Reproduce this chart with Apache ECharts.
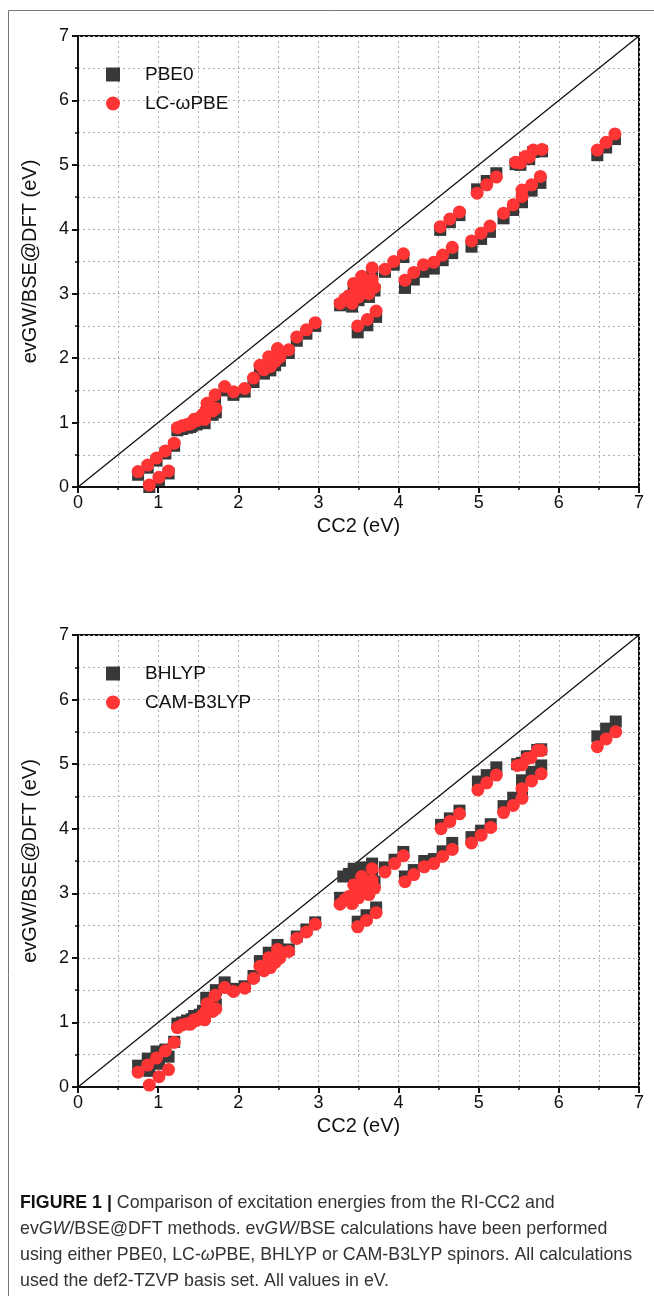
<!DOCTYPE html>
<html>
<head>
<meta charset="utf-8">
<script src="https://cdn.jsdelivr.net/npm/echarts@6/dist/echarts.min.js"></script>
<style>
html,body{margin:0;padding:0;background:#fff;}
#c{width:654px;height:1296px;}
</style>
</head>
<body>
<div id="c"></div>
<script>
// ---- data (CC2 eV, evGW/BSE@DFT eV) ----
const axisTicks = [0, 1, 2, 3, 4, 5, 6, 7];

const pbe0 = [
[0.75,0.19],[0.87,0.30],[0.98,0.41],[1.09,0.52],[1.20,0.64],
[0.89,0.00],[1.01,0.11],[1.13,0.21],
[1.24,0.88],[1.30,0.90],[1.36,0.92],[1.42,0.95],[1.48,0.97],[1.40,0.93],[1.52,1.02],[1.56,1.07],[1.60,1.14],[1.64,1.20],[1.58,0.99],[1.45,0.98],[1.68,1.12],[1.72,1.16],
[1.61,1.25],[1.71,1.37],[1.83,1.50],[1.94,1.43],[2.08,1.48],[2.19,1.63],
[2.27,1.83],[2.38,1.96],[2.49,2.08],[2.32,1.76],[2.40,1.81],[2.46,1.89],[2.52,1.96],[2.63,2.08],[2.73,2.27],[2.85,2.38],[2.96,2.50],
[3.27,2.82],[3.33,2.88],[3.38,2.92],[3.42,2.80],[3.44,3.10],[3.47,3.00],[3.50,2.90],[3.52,3.05],[3.54,3.21],[3.57,3.00],[3.60,3.09],[3.63,2.95],[3.67,3.16],[3.67,3.33],[3.70,3.05],
[3.49,2.40],[3.61,2.51],[3.72,2.64],
[3.83,3.34],[3.94,3.45],[4.06,3.57],
[4.08,3.09],[4.19,3.22],[4.31,3.34],[4.44,3.39],[4.55,3.52],[4.67,3.63],
[4.52,3.99],[4.64,4.11],[4.76,4.22],
[4.91,3.73],[5.03,3.85],[5.14,3.96],
[4.98,4.62],[5.10,4.75],[5.22,4.87],
[5.31,4.17],[5.43,4.30],[5.54,4.42],[5.54,4.53],[5.66,4.60],[5.77,4.72],
[5.46,5.01],[5.52,5.00],[5.58,5.10],[5.63,5.09],[5.68,5.20],[5.79,5.21],
[6.48,5.15],[6.59,5.27],[6.70,5.40]
];

const lcwpbe = [
[0.75,0.24],[0.87,0.34],[0.98,0.45],[1.09,0.56],[1.20,0.68],
[0.89,0.03],[1.01,0.15],[1.13,0.25],
[1.24,0.92],[1.30,0.95],[1.36,0.97],[1.42,1.00],[1.48,1.03],[1.40,0.98],[1.52,1.08],[1.56,1.13],[1.60,1.20],[1.64,1.26],[1.58,1.05],[1.45,1.05],[1.68,1.18],[1.72,1.22],
[1.61,1.30],[1.71,1.43],[1.83,1.56],[1.94,1.48],[2.08,1.53],[2.19,1.69],
[2.27,1.89],[2.38,2.02],[2.49,2.15],[2.32,1.82],[2.40,1.87],[2.46,1.95],[2.52,2.02],[2.63,2.13],[2.73,2.33],[2.85,2.44],[2.96,2.55],
[3.27,2.85],[3.33,2.92],[3.38,2.97],[3.42,2.85],[3.44,3.16],[3.47,3.05],[3.50,2.95],[3.52,3.10],[3.54,3.27],[3.57,3.05],[3.60,3.15],[3.63,3.00],[3.67,3.22],[3.67,3.40],[3.70,3.10],
[3.49,2.50],[3.61,2.60],[3.72,2.73],
[3.83,3.38],[3.94,3.50],[4.06,3.62],
[4.08,3.21],[4.19,3.33],[4.31,3.45],[4.44,3.49],[4.55,3.60],[4.67,3.72],
[4.52,4.04],[4.64,4.16],[4.76,4.27],
[4.91,3.82],[5.03,3.94],[5.14,4.05],
[4.98,4.56],[5.10,4.69],[5.22,4.81],
[5.31,4.25],[5.43,4.38],[5.54,4.51],[5.54,4.61],[5.66,4.69],[5.77,4.82],
[5.46,5.04],[5.52,5.03],[5.58,5.13],[5.63,5.12],[5.68,5.23],[5.79,5.24],
[6.48,5.23],[6.59,5.35],[6.70,5.48]
];

const bhlyp = [
[0.75,0.33],[0.87,0.44],[0.98,0.55],[1.09,0.58],[1.20,0.70],
[0.89,0.25],[1.01,0.36],[1.13,0.47],
[1.24,0.98],[1.30,1.00],[1.36,1.03],[1.42,1.05],[1.48,1.08],[1.40,1.02],[1.52,1.12],[1.56,1.18],[1.60,1.38],[1.64,1.30],[1.58,1.10],[1.45,1.10],[1.68,1.25],[1.72,1.28],
[1.61,1.38],[1.72,1.50],[1.83,1.62],[1.94,1.52],[2.08,1.56],[2.19,1.72],
[2.27,1.95],[2.38,2.08],[2.49,2.20],[2.32,1.85],[2.40,1.92],[2.46,1.98],[2.52,2.05],[2.63,2.13],[2.73,2.33],[2.85,2.44],[2.96,2.55],
[3.27,2.93],[3.31,3.26],[3.38,3.30],[3.42,2.93],[3.44,3.38],[3.47,3.15],[3.50,3.02],[3.52,3.22],[3.54,3.40],[3.57,3.12],[3.60,3.25],[3.63,3.08],[3.67,3.32],[3.67,3.46],[3.70,3.18],
[3.49,2.56],[3.60,2.66],[3.72,2.78],
[3.83,3.40],[3.95,3.52],[4.06,3.64],
[4.08,3.26],[4.19,3.36],[4.32,3.50],[4.44,3.53],[4.55,3.65],[4.67,3.78],
[4.53,4.06],[4.64,4.16],[4.76,4.28],
[4.91,3.87],[5.03,3.97],[5.15,4.07],
[4.99,4.73],[5.10,4.83],[5.22,4.95],
[5.31,4.35],[5.43,4.48],[5.54,4.60],[5.54,4.75],[5.66,4.88],[5.78,4.98],
[5.48,5.00],[5.54,5.02],[5.60,5.12],[5.65,5.12],[5.73,5.22],[5.78,5.23],
[6.48,5.43],[6.59,5.55],[6.71,5.66]
];

const camb3lyp = [
[0.75,0.23],[0.87,0.34],[0.98,0.45],[1.09,0.56],[1.20,0.69],
[0.89,0.03],[1.01,0.16],[1.13,0.27],
[1.24,0.92],[1.30,0.96],[1.36,0.98],[1.42,1.00],[1.48,1.03],[1.40,0.97],[1.52,1.07],[1.56,1.12],[1.60,1.18],[1.64,1.25],[1.58,1.04],[1.45,1.04],[1.68,1.17],[1.72,1.21],
[1.61,1.29],[1.71,1.42],[1.83,1.54],[1.94,1.48],[2.08,1.53],[2.19,1.68],
[2.27,1.87],[2.38,2.00],[2.49,2.13],[2.32,1.80],[2.40,1.85],[2.46,1.93],[2.52,2.00],[2.63,2.10],[2.73,2.30],[2.85,2.40],[2.96,2.52],
[3.27,2.83],[3.33,2.90],[3.38,2.95],[3.42,2.84],[3.44,3.13],[3.47,3.03],[3.50,2.93],[3.52,3.08],[3.54,3.26],[3.57,3.03],[3.60,3.13],[3.63,2.98],[3.67,3.20],[3.67,3.38],[3.70,3.08],
[3.49,2.48],[3.60,2.58],[3.72,2.70],
[3.83,3.33],[3.95,3.46],[4.06,3.58],
[4.08,3.18],[4.19,3.29],[4.32,3.41],[4.44,3.46],[4.55,3.57],[4.67,3.68],
[4.53,4.00],[4.64,4.11],[4.76,4.23],
[4.91,3.78],[5.03,3.90],[5.15,4.02],
[4.99,4.60],[5.10,4.71],[5.22,4.83],
[5.31,4.25],[5.43,4.36],[5.54,4.47],[5.54,4.62],[5.66,4.74],[5.78,4.85],
[5.48,4.98],[5.54,4.99],[5.60,5.09],[5.65,5.10],[5.73,5.21],[5.78,5.21],
[6.48,5.27],[6.59,5.39],[6.71,5.50]
];

const diagonal = [[0,0],[7,7]];

// ---- styling ----
const FONT = 'Liberation Sans';
const SQ = '#383838';
const RED = '#ff3535';

function mkX(gi){
  return {
    gridIndex: gi, type:'value', min: axisTicks[0], max: axisTicks[axisTicks.length-1], interval: 1,
    name: 'CC2 (eV)', nameLocation:'middle', nameGap: 29,
    nameTextStyle:{fontFamily:FONT, fontSize:20, color:'#111'},
    axisLine:{show:true, onZero:false, lineStyle:{color:'#111', width:2}},
    axisTick:{show:true, inside:false, length:6, lineStyle:{color:'#111', width:2}},
    minorTick:{show:true, splitNumber:2, length:3, lineStyle:{color:'#111', width:1.5}},
    axisLabel:{fontFamily:FONT, fontSize:18, color:'#111', margin:7},
    splitLine:{show:true, lineStyle:{color:'#b0b0b0', type:[2,3], width:1}},
    minorSplitLine:{show:true, lineStyle:{color:'#b0b0b0', type:[2,3], width:1}}
  };
}
function mkY(gi){
  return {
    gridIndex: gi, type:'value', min: axisTicks[0], max: axisTicks[axisTicks.length-1], interval: 1,
    name: 'evGW/BSE@DFT (eV)', nameLocation:'middle', nameGap: 38,
    nameTextStyle:{fontFamily:FONT, fontSize:20, color:'#111'},
    axisLine:{show:true, onZero:false, lineStyle:{color:'#111', width:2}},
    axisTick:{show:true, inside:false, length:6, lineStyle:{color:'#111', width:2}},
    minorTick:{show:true, splitNumber:2, length:3, lineStyle:{color:'#111', width:1.5}},
    axisLabel:{fontFamily:FONT, fontSize:18, color:'#111', margin:9},
    splitLine:{show:true, lineStyle:{color:'#b0b0b0', type:[2,3], width:1}},
    minorSplitLine:{show:true, lineStyle:{color:'#b0b0b0', type:[2,3], width:1}}
  };
}
function sqSeries(name, data, gi){
  return {name, type:'scatter', xAxisIndex:gi, yAxisIndex:gi, data, symbol:'rect', symbolSize:12,
    itemStyle:{color:SQ, opacity:1}, z:3};
}
function circSeries(name, data, gi){
  return {name, type:'scatter', xAxisIndex:gi, yAxisIndex:gi, data, symbol:'circle', symbolSize:13,
    itemStyle:{color:RED, opacity:1}, z:4};
}
function diagSeries(gi){
  return {type:'line', xAxisIndex:gi, yAxisIndex:gi, data:diagonal, symbol:'none', silent:true,
    lineStyle:{color:'#111', width:1.3}, z:2};
}
function mkLegend(names, top){
  return {
    left: 101, top: top, orient:'vertical', itemGap: 10, itemWidth: 14, itemHeight: 14,
    data: [
      {name:names[0], icon:'rect', itemStyle:{color:SQ}},
      {name:names[1], icon:'circle', itemStyle:{color:RED}}
    ],
    textStyle:{fontFamily:FONT, fontSize:19, color:'#111', padding:[0,0,0,20]},
    selectedMode:false
  };
}

const captionLines = [
  '{b|FIGURE 1 |} Comparison of excitation energies from the RI-CC2 and',
  'ev{i|GW}/BSE@DFT methods. ev{i|GW}/BSE calculations have been performed',
  'using either PBE0, LC-{i|ω}PBE, BHLYP or CAM-B3LYP spinors. All calculations',
  'used the def2-TZVP basis set. All values in eV.'
];
const captionTops = [1194, 1220, 1246, 1272];

const chart = echarts.init(document.getElementById('c'), null, {renderer:'canvas'});
const graphic = [
  {type:'rect', shape:{x:8.5, y:10.5, width:900, height:1500}, style:{fill:'none', stroke:'#777', lineWidth:1}, silent:true, z:-1}
];
captionLines.forEach((t,i)=>{
  graphic.push({type:'text', left:20, top:captionTops[i], silent:true,
    style:{text:t, fontFamily:FONT, fontSize:17.8, fill:'#333',
      rich:{b:{fontWeight:'bold', fontFamily:FONT, fontSize:17.8, fill:'#111'}, i:{fontStyle:'italic', fontFamily:FONT, fontSize:17.8, fill:'#333'}}}});
});

chart.setOption({
  animation:false,
  backgroundColor:'#fff',
  grid:[
    {left:78, top:36, width:561, height:451, show:true, borderColor:'#111', borderWidth:2, backgroundColor:'transparent'},
    {left:78, top:635, width:561, height:452, show:true, borderColor:'#111', borderWidth:2, backgroundColor:'transparent'}
  ],
  xAxis:[mkX(0), mkX(1)],
  yAxis:[mkY(0), mkY(1)],
  legend:[mkLegend(['PBE0','LC-ωPBE'], 60), mkLegend(['BHLYP','CAM-B3LYP'], 659)],
  series:[
    diagSeries(0), sqSeries('PBE0', pbe0, 0), circSeries('LC-ωPBE', lcwpbe, 0),
    diagSeries(1), sqSeries('BHLYP', bhlyp, 1), circSeries('CAM-B3LYP', camb3lyp, 1)
  ],
  graphic
});
</script>
</body>
</html>
